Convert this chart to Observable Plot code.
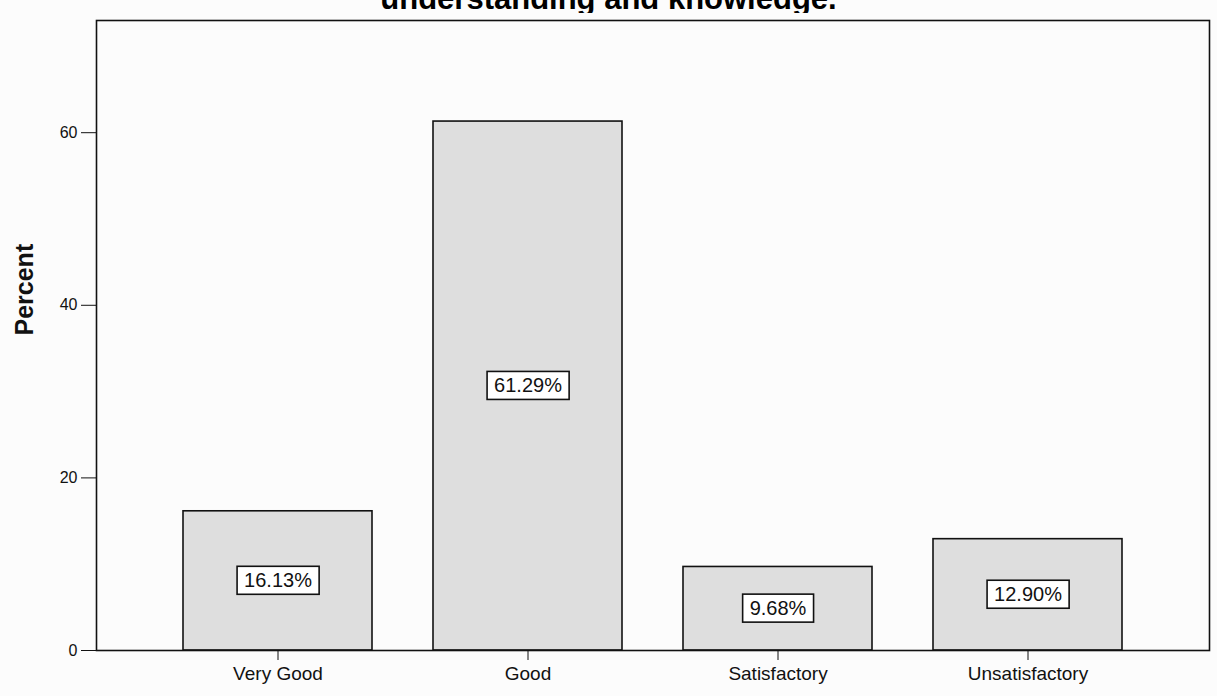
<!DOCTYPE html>
<html>
<head>
<meta charset="utf-8">
<script src="https://cdn.jsdelivr.net/npm/d3@7"></script>
<script src="https://cdn.jsdelivr.net/npm/@observablehq/plot@0.6"></script>
<style>
  html, body { margin: 0; padding: 0; background: #fcfcfc; }
  #title {
    position: relative; width: 1217px; height: 13px; overflow: hidden;
    font-family: "Liberation Sans", Arial, sans-serif; font-weight: bold; font-size: 31px;
  }
  #title span { position: absolute; left: 0; width: 1217px; text-align: center; top: -19px; line-height: normal; white-space: nowrap; }
</style>
</head>
<body>
<div id="title"><span>understanding and knowledge.</span></div>
<div id="chart"></div>
<script>
const categories = ["Very Good", "Good", "Satisfactory", "Unsatisfactory"];
const percents = [16.13, 61.29, 9.68, 12.90];
const pctLabels = ["16.13%", "61.29%", "9.68%", "12.90%"];
const yTicks = [0, 20, 40, 60];

const data = categories.map((c, i) => ({cat: c, pct: percents[i], label: pctLabels[i]}));

const chart = Plot.plot({
  width: 1217,
  height: 683,
  marginTop: 7,
  marginBottom: 46,
  marginLeft: 96,
  marginRight: 8,
  style: {fontFamily: "Liberation Sans, Arial, sans-serif", background: "#fcfcfc", color: "#111"},
  x: {domain: categories, paddingInner: 0.244, paddingOuter: 0.348, label: null},
  y: {domain: [0, 73], label: null},
  marks: [
    Plot.barY(data, {x: "cat", y: "pct", fill: "#dedede", stroke: "#111", strokeWidth: 1.6}),
    Plot.frame({stroke: "#111", strokeWidth: 1.6}),
    Plot.axisY({ticks: yTicks, tickSize: 15, tickPadding: 4, fontSize: 16, label: null}),
    Plot.axisX({tickSize: 10, tickPadding: 6, fontSize: 19, label: null}),
    Plot.text(data, {x: "cat", y: d => d.pct / 2, text: "label", fontSize: 20, fill: "#111"}),
    Plot.text(["Percent"], {frameAnchor: "left", dx: -72, rotate: -90, fontSize: 25, fontWeight: "bold", fill: "#111"})
  ]
});
document.getElementById("chart").appendChild(chart);

// draw boxes behind the percentage labels (first plain text mark group)
const labelGroup = chart.querySelectorAll('g[aria-label="text"]')[0];
if (labelGroup) {
  labelGroup.querySelectorAll("text").forEach(t => {
    const b = t.getBBox();
    const rect = document.createElementNS("http://www.w3.org/2000/svg", "rect");
    const padX = 7, padY = 3;
    rect.setAttribute("x", b.x - padX);
    rect.setAttribute("y", b.y - padY);
    rect.setAttribute("width", b.width + 2 * padX);
    rect.setAttribute("height", b.height + 2 * padY);
    rect.setAttribute("fill", "#ffffff");
    rect.setAttribute("stroke", "#111");
    rect.setAttribute("stroke-width", 1.6);
    if (t.getAttribute("transform")) rect.setAttribute("transform", t.getAttribute("transform"));
    t.parentNode.insertBefore(rect, t);
  });
}
</script>
</body>
</html>
